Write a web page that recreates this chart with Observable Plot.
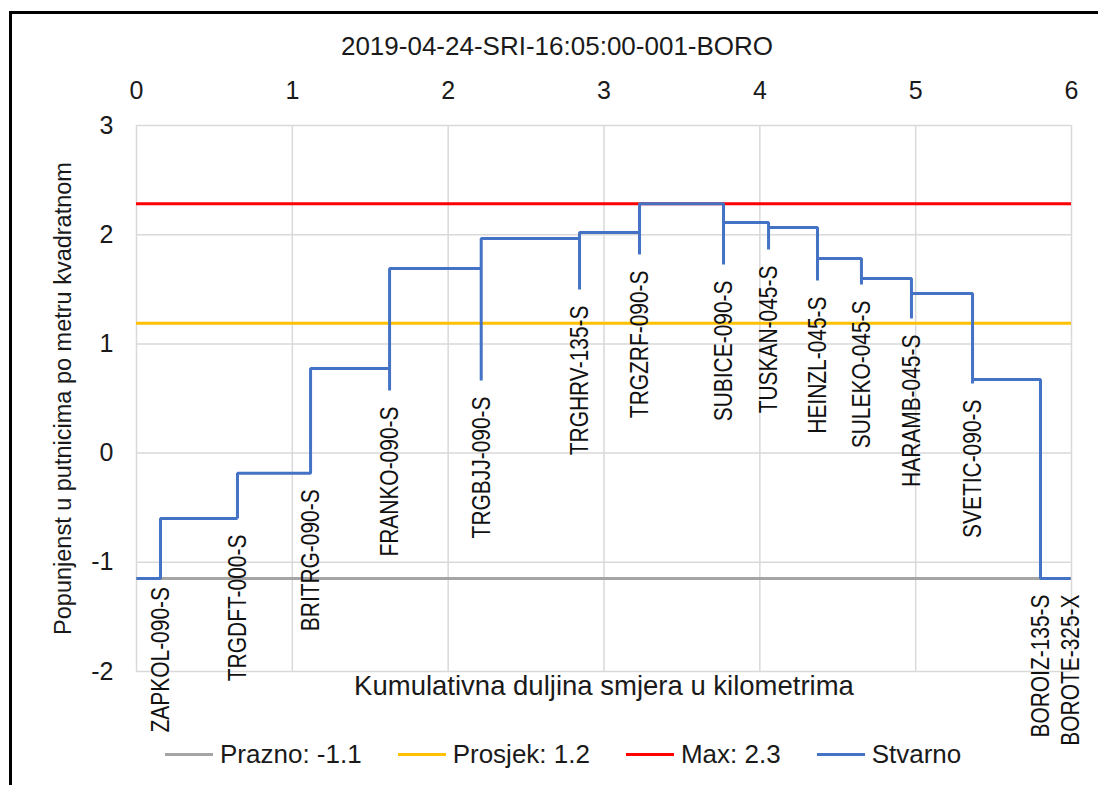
<!DOCTYPE html>
<html>
<head>
<meta charset="utf-8">
<script src="https://cdn.jsdelivr.net/npm/d3@7"></script>
<script src="https://cdn.jsdelivr.net/npm/@observablehq/plot@0.6"></script>
<style>
  body { margin: 0; background: #fff; font-family: "Liberation Sans", Arial, sans-serif; }
  #wrap { position: relative; width: 1098px; height: 785px; overflow: hidden; background: #fff; }
  #bt { position: absolute; left: 9px; top: 11px; right: 0; height: 3px; background: #000; }
  #bl { position: absolute; left: 9px; top: 11px; bottom: 0; width: 3px; background: #000; }
  #title { position: absolute; left: 0; top: 30px; width: 1114px; text-align: center; font-size: 26px; line-height: 32px; color: #1a1a1a; }
  #chart { position: absolute; left: 0; top: 70px; }
  #legend { position: absolute; left: 165px; top: 739px; height: 30px; display: flex; align-items: center; font-size: 26px; color: #1a1a1a; white-space: nowrap; }
  .item { display: flex; align-items: center; margin-right: 36px; }
  .sw { width: 48px; height: 3px; margin-right: 7px; }
</style>
</head>
<body>
<div id="wrap">
  <div id="bt"></div>
  <div id="bl"></div>
  <div id="title"></div>
  <div id="chart"></div>
  <div id="legend"></div>
</div>
<script>
// ---- data ----
const chartTitle = "2019-04-24-SRI-16:05:00-001-BORO";
const xTitle = "Kumulativna duljina smjera u kilometrima";
const yTitle = "Popunjenst u putnicima po metru kvadratnom";

const stations = ["ZAPKOL-090-S", "TRGDFT-000-S", "BRITRG-090-S", "FRANKO-090-S", "TRGBJJ-090-S",
  "TRGHRV-135-S", "TRGZRF-090-S", "SUBICE-090-S", "TUSKAN-045-S", "HEINZL-045-S",
  "SULEKO-045-S", "HARAMB-045-S", "SVETIC-090-S", "BOROIZ-135-S", "BOROTE-325-X"];
const km = [0.154, 0.648, 1.117, 1.624, 2.212, 2.843, 3.228, 3.767, 4.056, 4.370,
  4.652, 4.973, 5.365, 5.801, 5.994];
// occupancy after leaving each stop
const occupancy = [-0.599, -0.185, 0.775, 1.690, 1.965, 2.020, 2.283, 2.111, 2.066, 1.782,
  1.599, 1.462, 0.674, -1.148, -1.148];
// value where the stop marker (drop line) ends and its label hangs
const labelAnchor = [-1.08, -0.60, -0.185, 0.573, 0.665, 1.498, 1.819, 1.727, 1.864, 1.581,
  1.544, 1.232, 0.637, -1.148, -1.148];

const prazno = -1.148;
const prosjek = 1.19;
const maxValue = 2.283;

const xTicks = [0, 1, 2, 3, 4, 5, 6];
const yTicks = [-2, -1, 0, 1, 2, 3];

const legendLabels = ["Prazno: -1.1", "Prosjek: 1.2", "Max: 2.3", "Stvarno"];
const legendColors = ["#a5a5a5", "#ffc000", "#ff0000", "#4472c4"];

// ---- build step line ----
const points = [{x: 0, y: prazno}];
let prev = prazno;
stations.forEach((s, i) => {
  points.push({x: km[i], y: prev});
  points.push({x: km[i], y: labelAnchor[i]});
  points.push({x: km[i], y: occupancy[i]});
  prev = occupancy[i];
});

const chart = Plot.plot({
  width: 1098,
  height: 672,
  marginTop: 55,
  marginBottom: 71,
  marginLeft: 136,
  marginRight: 27,
  style: {fontFamily: "'Liberation Sans', Arial, sans-serif", overflow: "visible", background: "transparent", color: "#1a1a1a"},
  x: {domain: [0, 6], label: null},
  y: {domain: [-2, 3], label: null},
  marks: [
    Plot.gridX(xTicks, {stroke: "#d9d9d9", strokeOpacity: 1, strokeWidth: 1.5}),
    Plot.gridY(yTicks, {stroke: "#d9d9d9", strokeOpacity: 1, strokeWidth: 1.5}),
    Plot.axisX(xTicks, {anchor: "top", tickSize: 0, tickPadding: 27, fontSize: 25, label: null, tickFormat: d => String(d)}),
    Plot.axisY(yTicks, {anchor: "left", tickSize: 0, tickPadding: 23, fontSize: 25, label: null, tickFormat: d => String(d)}),
    Plot.ruleY([prazno], {stroke: legendColors[0], strokeWidth: 3}),
    Plot.ruleY([prosjek], {stroke: legendColors[1], strokeWidth: 3}),
    Plot.ruleY([maxValue], {stroke: legendColors[2], strokeWidth: 3}),
    Plot.line(points, {x: "x", y: "y", stroke: legendColors[3], strokeWidth: 3, strokeLinecap: "butt", strokeLinejoin: "miter"}),
    Plot.text(stations, {x: (d, i) => km[i], y: (d, i) => labelAnchor[i], text: d => d, rotate: -90,
      textAnchor: "end", dy: 16, fontSize: 26.5, fill: "#111", className: "stn"}),
    Plot.text([xTitle], {frameAnchor: "bottom", text: d => d, dy: 23, fontSize: 27.5, fill: "#1a1a1a"}),
    Plot.text([yTitle], {frameAnchor: "left", text: d => d, dx: -73, rotate: -90, textAnchor: "middle", fontSize: 23.5, fill: "#1a1a1a"})
  ]
});
// condense station labels along their length (tall, narrow lettering as in the reference)
d3.select(chart).selectAll(".stn text").attr("transform", function() {
  return (this.getAttribute("transform") || "") + " scale(0.79,1)";
});
document.getElementById("chart").appendChild(chart);
document.getElementById("title").textContent = chartTitle;

const legend = document.getElementById("legend");
legendLabels.forEach((lab, i) => {
  const item = document.createElement("div");
  item.className = "item";
  const sw = document.createElement("div");
  sw.className = "sw";
  sw.style.background = legendColors[i];
  const t = document.createElement("span");
  t.textContent = lab;
  item.appendChild(sw);
  item.appendChild(t);
  legend.appendChild(item);
});
</script>
</body>
</html>
